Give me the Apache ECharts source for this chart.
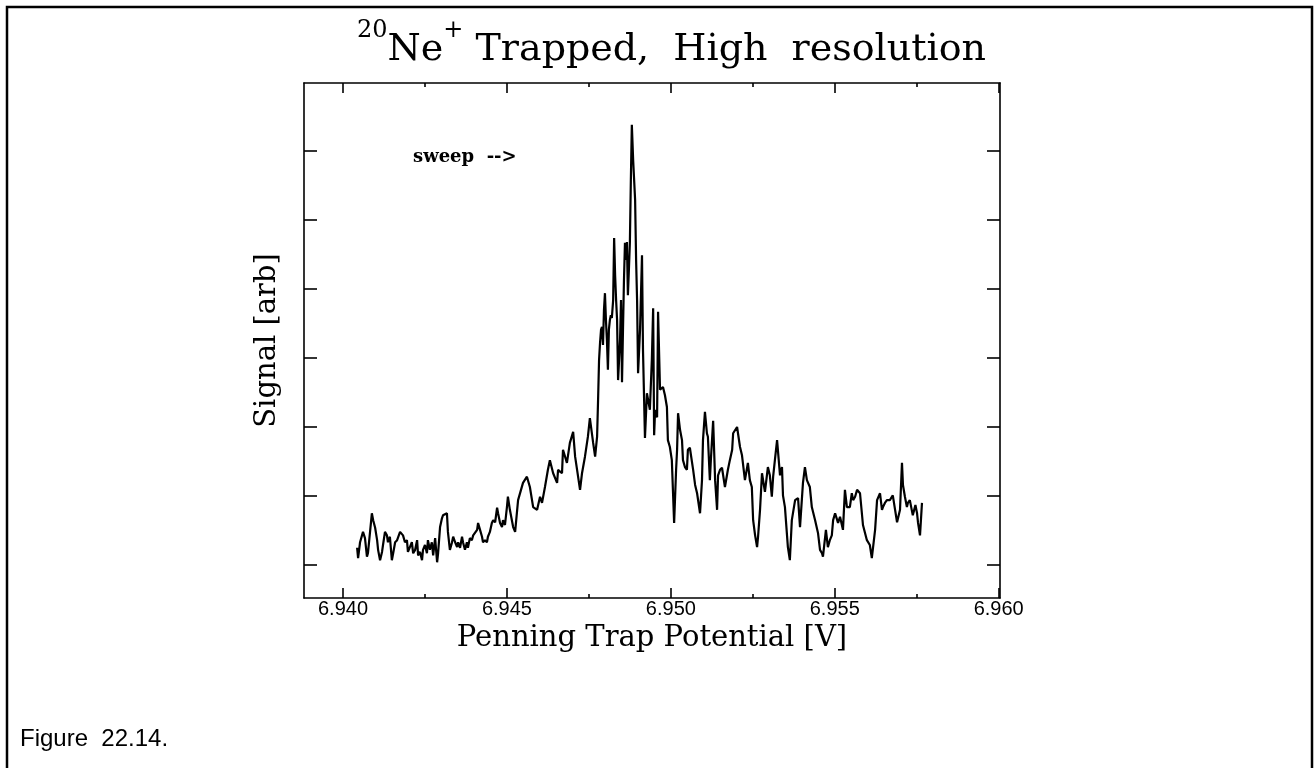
<!DOCTYPE html>
<html>
<head>
<meta charset="utf-8">
<script src="https://cdn.jsdelivr.net/npm/echarts@6/dist/echarts.min.js"></script>
<style>
html,body{margin:0;padding:0;background:#fff;}
#chart{width:1315px;height:768px;}
</style>
</head>
<body>
<div id="chart"></div>
<script>
// Penning trap potential [V]
const voltage = [
6.94043,6.94046,6.94052,6.94061,6.94067,6.94073,6.94076,6.94082,6.94088,6.94092,
6.94098,6.94104,6.94107,6.94113,6.94119,6.94122,6.94128,6.94134,6.94137,6.94143,
6.94149,6.94153,6.94159,6.94165,6.94174,6.94183,6.94189,6.94195,6.94198,6.94204,
6.94210,6.94214,6.94220,6.94226,6.94229,6.94235,6.94241,6.94244,6.94250,6.94256,
6.94259,6.94265,6.94271,6.94275,6.94281,6.94287,6.94290,6.94296,6.94302,6.94305,
6.94317,6.94320,6.94326,6.94332,6.94336,6.94342,6.94348,6.94351,6.94357,6.94363,
6.94366,6.94372,6.94378,6.94381,6.94387,6.94393,6.94397,6.94409,6.94412,6.94418,
6.94424,6.94427,6.94433,6.94439,6.94442,6.94448,6.94454,6.94458,6.94464,6.94470,
6.94473,6.94479,6.94485,6.94488,6.94494,6.94500,6.94503,6.94509,6.94519,6.94525,
6.94534,6.94549,6.94561,6.94570,6.94580,6.94592,6.94601,6.94607,6.94616,6.94625,
6.94631,6.94641,6.94653,6.94656,6.94668,6.94671,6.94683,6.94692,6.94702,6.94708,
6.94714,6.94723,6.94729,6.94738,6.94747,6.94753,6.94763,6.94769,6.94775,6.94778,
6.94781,6.94784,6.94787,6.94790,6.94793,6.94796,6.94799,6.94802,6.94805,6.94808,
6.94811,6.94814,6.94817,6.94820,6.94824,6.94827,6.94830,6.94833,6.94836,6.94839,
6.94842,6.94845,6.94848,6.94851,6.94854,6.94857,6.94860,6.94863,6.94866,6.94869,
6.94872,6.94875,6.94878,6.94881,6.94885,6.94888,6.94891,6.94894,6.94897,6.94900,
6.94906,6.94912,6.94915,6.94921,6.94927,6.94936,6.94942,6.94946,6.94949,6.94952,
6.94958,6.94961,6.94967,6.94976,6.94982,6.94988,6.94991,6.94997,6.95003,6.95010,
6.95016,6.95019,6.95022,6.95028,6.95034,6.95037,6.95043,6.95049,6.95052,6.95058,
6.95064,6.95068,6.95074,6.95080,6.95089,6.95095,6.95098,6.95104,6.95110,6.95113,
6.95119,6.95122,6.95129,6.95135,6.95141,6.95144,6.95150,6.95156,6.95165,6.95174,
6.95180,6.95187,6.95190,6.95196,6.95202,6.95211,6.95217,6.95220,6.95226,6.95235,
6.95241,6.95247,6.95251,6.95257,6.95263,6.95266,6.95272,6.95278,6.95287,6.95296,
6.95302,6.95308,6.95312,6.95318,6.95324,6.95333,6.95339,6.95342,6.95348,6.95357,
6.95363,6.95369,6.95379,6.95388,6.95394,6.95403,6.95409,6.95415,6.95424,6.95430,
6.95440,6.95449,6.95455,6.95461,6.95464,6.95473,6.95479,6.95485,6.95491,6.95495,
6.95501,6.95507,6.95510,6.95516,6.95522,6.95525,6.95531,6.95537,6.95546,6.95552,
6.95556,6.95562,6.95568,6.95577,6.95586,6.95598,6.95607,6.95613,6.95623,6.95629,
6.95638,6.95644,6.95647,6.95653,6.95659,6.95668,6.95677,6.95684,6.95690,6.95699,
6.95705,6.95708,6.95714,6.95720,6.95723,6.95729,6.95738,6.95746,6.95751,6.95754,
6.95760,6.95766
];
// Signal [arb] (one unit = one tick spacing)
const signal = [
0.25,0.10,0.33,0.48,0.39,0.12,0.17,0.46,0.75,0.65,
0.54,0.36,0.22,0.07,0.19,0.29,0.48,0.43,0.33,0.41,
0.07,0.17,0.33,0.36,0.48,0.43,0.33,0.36,0.19,0.26,
0.33,0.17,0.22,0.36,0.14,0.19,0.07,0.22,0.29,0.17,
0.36,0.22,0.33,0.14,0.39,0.04,0.17,0.55,0.68,0.72,
0.75,0.48,0.22,0.32,0.41,0.33,0.26,0.33,0.25,0.41,
0.33,0.22,0.33,0.25,0.39,0.36,0.43,0.51,0.61,0.51,
0.41,0.33,0.36,0.33,0.41,0.48,0.61,0.65,0.62,0.83,
0.75,0.61,0.55,0.65,0.58,0.84,0.99,0.80,0.55,0.48,
0.94,1.19,1.28,1.13,0.84,0.80,0.99,0.90,1.13,1.38,
1.52,1.33,1.19,1.38,1.33,1.67,1.48,1.77,1.93,1.57,
1.38,1.09,1.33,1.57,1.86,2.13,1.77,1.57,1.86,2.39,
2.97,3.22,3.41,3.45,3.19,3.70,3.94,3.55,3.26,2.83,
3.41,3.55,3.62,3.58,3.84,4.74,4.20,3.84,3.55,2.68,
2.97,3.26,3.84,2.65,3.41,4.13,4.67,4.42,4.68,3.91,
4.28,4.67,5.58,6.38,5.87,5.58,5.29,4.42,3.84,2.78,
3.41,4.49,3.12,1.84,2.49,2.25,2.97,3.72,1.88,2.25,
2.14,3.67,2.54,2.58,2.46,2.29,1.81,1.71,1.52,0.61,
1.38,1.67,2.20,1.96,1.81,1.52,1.42,1.38,1.67,1.70,
1.71,1.38,1.16,1.04,0.75,1.23,1.81,2.22,1.91,1.86,
1.23,1.52,2.09,1.23,0.80,1.30,1.38,1.41,1.13,1.38,
1.52,1.67,1.91,1.93,2.00,1.71,1.59,1.57,1.23,1.48,
1.23,1.13,0.65,0.43,0.26,0.41,0.80,1.33,1.06,1.42,
1.30,0.99,1.28,1.55,1.81,1.30,1.42,1.01,0.84,0.26,
0.07,0.65,0.94,0.97,0.55,1.19,1.42,1.23,1.13,0.84,
0.65,0.46,0.22,0.17,0.12,0.51,0.26,0.36,0.43,0.65,
0.75,0.75,0.61,0.70,0.70,0.51,1.09,0.84,0.84,1.04,
0.94,0.99,1.09,1.04,0.58,0.36,0.29,0.10,0.51,0.94,
1.04,0.80,0.84,0.90,0.94,0.94,1.01,0.80,0.62,0.80,
1.48,1.16,0.99,0.84,0.90,0.94,0.72,0.87,0.75,0.61,
0.43,0.90
];
const xMajorTicks = [6.940, 6.945, 6.950, 6.955, 6.960];
const xMinorTicks = [6.9425, 6.9475, 6.9525, 6.9575];
const yTicks = [0, 1, 2, 3, 4, 5, 6];
const xRange = [6.93881, 6.96004];
const yRange = [-0.478, 6.986];

const titleParts = ['20', 'Ne', '+', ' Trapped,  High  resolution'];
const xName = 'Penning Trap Potential [V]';
const yName = 'Signal [arb]';
const sweepText = 'sweep  -->';
const caption = 'Figure  22.14.';

const chart = echarts.init(document.getElementById('chart'), null, {renderer: 'canvas'});
const serif = 'DejaVu Serif';
const sans = 'Liberation Sans';

function xAxisDef(pos, ticks, len, showLine, showLabels) {
  return {
    type: 'value', position: pos, min: xRange[0], max: xRange[1],
    axisLine: {show: showLine, onZero: false, lineStyle: {color: '#000', width: 1.6}},
    axisTick: {show: true, inside: true, length: len, customValues: ticks, lineStyle: {color: '#000', width: 1.6}},
    axisLabel: {show: showLabels, customValues: ticks, margin: 1, color: '#000',
      fontFamily: sans, fontSize: 20, formatter: v => v.toFixed(3)},
    splitLine: {show: false}
  };
}
function yAxisDef(pos, withName) {
  const a = {
    type: 'value', position: pos, min: yRange[0], max: yRange[1],
    axisLine: {show: true, onZero: false, lineStyle: {color: '#000', width: 1.6}},
    axisTick: {show: true, inside: true, length: 13, customValues: yTicks, lineStyle: {color: '#000', width: 1.6}},
    axisLabel: {show: false},
    splitLine: {show: false}
  };
  if (withName) {
    Object.assign(a, {name: yName, nameLocation: 'middle', nameGap: 22,
      nameTextStyle: {fontFamily: serif, fontSize: 29, color: '#000'}});
  }
  return a;
}

const xMain = xAxisDef('bottom', xMajorTicks, 10, true, true);
Object.assign(xMain, {name: xName, nameLocation: 'middle', nameGap: 0,
  nameTextStyle: {fontFamily: serif, fontSize: 29, color: '#000', verticalAlign: 'top'}});

const option = {
  animation: false,
  backgroundColor: '#fff',
  title: {
    text: '{s|' + titleParts[0] + '}{m|' + titleParts[1] + '}{s|' + titleParts[2] + '}{m|' + titleParts[3] + '}',
    left: 352, top: 14,
    textStyle: {
      fontWeight: 'normal',
      rich: {
        m: {fontFamily: serif, fontWeight: 'normal', fontSize: 38, color: '#000', verticalAlign: 'bottom', lineHeight: 50},
        s: {fontFamily: serif, fontWeight: 'normal', fontSize: 24, color: '#000', verticalAlign: 'top', lineHeight: 50, padding: [0,0,18,0]}
      }
    }
  },
  grid: {left: 304, right: 315, top: 83, bottom: 170, containLabel: false},
  xAxis: [
    xMain,
    xAxisDef('bottom', xMinorTicks, 4, false, false),
    xAxisDef('top', xMajorTicks, 10, true, false),
    xAxisDef('top', xMinorTicks, 4, false, false)
  ],
  yAxis: [yAxisDef('left', true), yAxisDef('right', false)],
  series: [{
    type: 'line',
    data: voltage.map((v, i) => [v, signal[i]]),
    showSymbol: false,
    symbol: 'none',
    lineStyle: {color: '#000', width: 2.2},
    xAxisIndex: 0, yAxisIndex: 0
  }],
  graphic: [
    {type: 'rect', shape: {x: 7, y: 7, width: 1305, height: 800},
      style: {fill: null, stroke: '#000', lineWidth: 2.5}, silent: true},
    {type: 'text', left: 413, top: 148,
      style: {text: sweepText, font: 'bold 18px "DejaVu Serif"', fill: '#000'}},
    {type: 'text', left: 20, top: 727,
      style: {text: caption, font: '24px "Liberation Sans"', fill: '#000'}}
  ]
};
chart.setOption(option);
</script>
</body>
</html>
